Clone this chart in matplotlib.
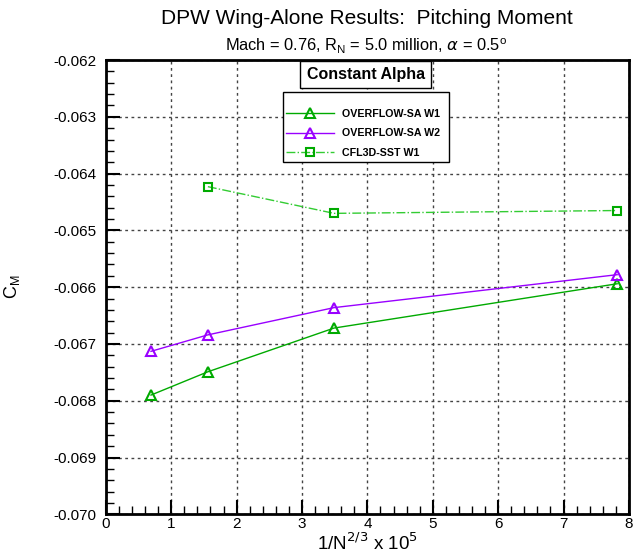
import numpy as np
import matplotlib.pyplot as plt
from matplotlib.patches import Rectangle
from matplotlib.ticker import MultipleLocator, FormatStrFormatter

plt.rcParams['font.family'] = ['Liberation Sans', 'DejaVu Sans']

# --- data ---
x_ovf = [0.69, 1.56, 3.49, 7.82]
cm_ovf_w1 = [-0.06790, -0.06749, -0.06672, -0.06594]
cm_ovf_w2 = [-0.06713, -0.06684, -0.06636, -0.06578]
x_cfl = [1.56, 3.49, 7.82]
cm_cfl_w1 = [-0.06423, -0.06470, -0.06465]

green = '#00aa00'
purple = '#9900ff'
lgreen = '#33cc33'

fig = plt.figure(figsize=(6.34, 5.56), dpi=100)
ax = fig.add_axes([0.167, 0.075, 0.825, 0.817])

ax.plot(x_ovf, cm_ovf_w1, color=green, lw=1, marker='^', ms=6.5, mfc='none',
        mec=green, mew=1.5, label='OVERFLOW-SA W1')
ax.plot(x_ovf, cm_ovf_w2, color=purple, lw=1, marker='^', ms=6.5, mfc='none',
        mec=purple, mew=1.5, label='OVERFLOW-SA W2')
ax.plot(x_cfl, cm_cfl_w1, color=lgreen, lw=1, ls='-.', marker='s', ms=5.5, mfc='none',
        mec=green, mew=1.5, label='CFL3D-SST W1')

ax.set_xlim(0, 8)
ax.set_ylim(-0.070, -0.062)
ax.xaxis.set_major_locator(MultipleLocator(1))
ax.xaxis.set_minor_locator(MultipleLocator(0.2))
ax.yaxis.set_major_locator(MultipleLocator(0.001))
ax.yaxis.set_minor_locator(MultipleLocator(0.0002))
ax.yaxis.set_major_formatter(FormatStrFormatter('%.3f'))
ax.tick_params(which='both', direction='in', top=False, right=False, labelsize=11)
ax.tick_params(which='major', length=10, width=1.5)
ax.tick_params(which='minor', length=6, width=1)
ax.tick_params(axis='x', pad=2)
ax.tick_params(axis='y', pad=7)
for s in ax.spines.values():
    s.set_linewidth(2)
ax.grid(True, which='major', ls=(0, (2, 2.5)), color='#444444', lw=1)

ax.set_xlabel('1/N$^{2/3}$ x 10$^5$', fontsize=13.5, labelpad=1)
ax.set_ylabel('C$_\\mathregular{M}$', fontsize=13, labelpad=22)

fig.text(0.578, 0.967, 'DPW Wing-Alone Results:  Pitching Moment', ha='center', va='center',
         fontsize=15)
fig.text(0.578, 0.917, 'Mach = 0.76, R$_\\mathregular{N}$ = 5.0 million, $\\alpha$ = 0.5$^\\mathregular{o}$',
         ha='center', va='center', fontsize=11.8)

ax.text(0.497, 0.968, 'Constant Alpha', transform=ax.transAxes, ha='center', va='center',
        fontsize=11.5, fontweight='bold',
        bbox=dict(boxstyle='square,pad=0.4', fc='white', ec='black', lw=1))

# legend frame drawn separately (padding is uneven in the original)
ax.add_patch(Rectangle((0.3384, 0.7753), 0.3174, 0.1542, transform=ax.transAxes,
                       fc='white', ec='black', lw=1, zorder=4))
leg = ax.legend(loc='upper left', bbox_to_anchor=(0.344, 0.893), frameon=False,
                handlelength=4.5, handletextpad=0.8, borderpad=0, borderaxespad=0,
                labelspacing=0.9, prop={'size': 7.7, 'weight': 'bold'})
leg.set_zorder(5)

fig.savefig('out.png', dpi=100)
